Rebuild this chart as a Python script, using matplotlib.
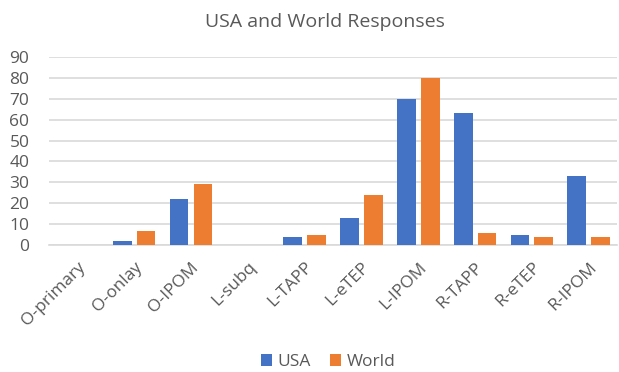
import matplotlib
matplotlib.use("Agg")
import matplotlib.pyplot as plt
import numpy as np

categories = ["O-primary", "O-onlay", "O-IPOM", "L-subq", "L-TAPP", "L-eTEP",
              "L-IPOM", "R-TAPP", "R-eTEP", "R-IPOM"]
usa = [0, 2, 22, 0, 4, 13, 70, 63, 5, 33]
world = [0, 7, 29, 0, 5, 24, 80, 6, 4, 4]
yticks = [0, 10, 20, 30, 40, 50, 60, 70, 80, 90]

plt.rcParams['font.family'] = ['Open Sans', 'DejaVu Sans']
text_color = "#595959"

fig = plt.figure(figsize=(6.19, 3.72), dpi=100)
ax = fig.add_axes([0.079, 0.341, 0.918, 0.506])

x = np.arange(len(categories))
w = 0.33
ax.bar(x - 0.21, usa, w, color="#4472C4", label="USA", zorder=3)
ax.bar(x + 0.21, world, w, color="#ED7D31", label="World", zorder=3)

ax.set_xlim(-0.5, len(categories) - 0.5)
ax.set_ylim(0, 90)
ax.set_yticks(yticks)
ax.set_yticklabels([str(v) for v in yticks], fontsize=12.5, color=text_color)
ax.yaxis.grid(True, color="#D9D9D9", linewidth=1.2, zorder=0)
ax.set_axisbelow(True)
for s in ["top", "right", "left"]:
    ax.spines[s].set_visible(False)
ax.spines["bottom"].set_color("#D9D9D9")
ax.spines["bottom"].set_linewidth(1.2)
ax.tick_params(axis="y", length=0, pad=14)
ax.tick_params(axis="x", length=0, pad=10)
ax.set_xticks(x)
ax.set_xticklabels(categories, rotation=45, ha="right", va="top",
                   rotation_mode="anchor", fontsize=12.5, color=text_color)

fig.text(0.525, 0.94, "USA and World Responses", ha="center", va="center",
         fontsize=14, color=text_color)

leg = fig.legend(loc="center", bbox_to_anchor=(0.53, 0.027), ncol=2, frameon=False,
                 fontsize=12.5, handlelength=0.65, handleheight=0.65, handletextpad=0.3,
                 columnspacing=1.1)
for t in leg.get_texts():
    t.set_color(text_color)

fig.savefig("out.png", dpi=100)
